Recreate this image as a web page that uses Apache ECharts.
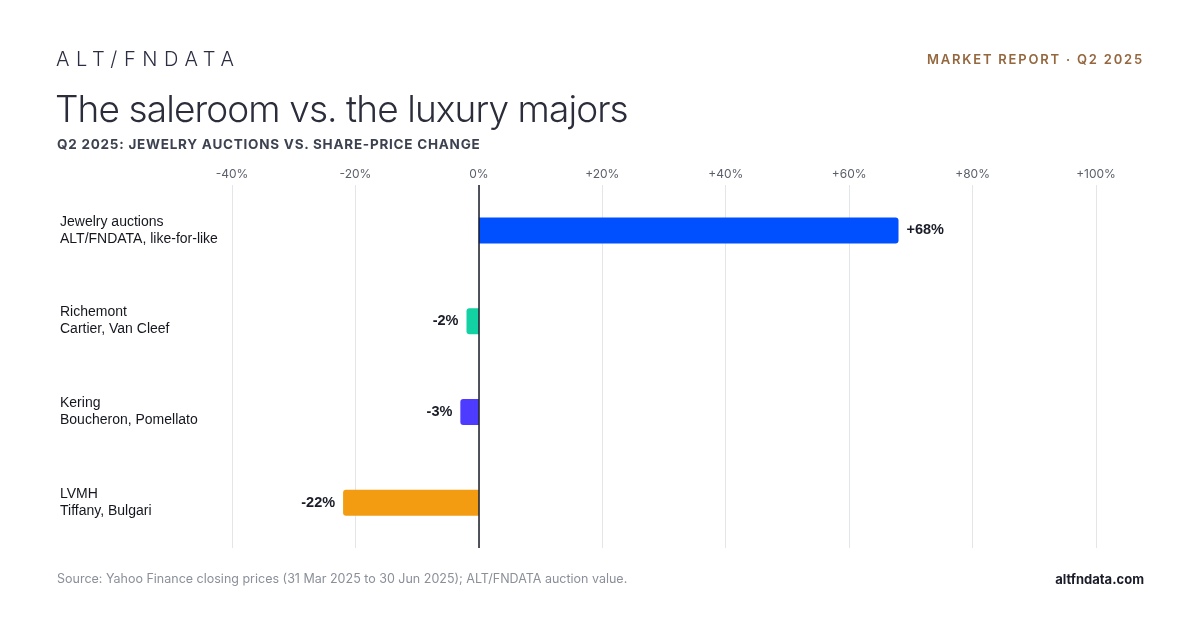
<!DOCTYPE html>
<html>
<head>
<meta charset="utf-8">
<script src="https://cdn.jsdelivr.net/npm/echarts@6/dist/echarts.min.js"></script>
<style>
  html, body { margin: 0; padding: 0; background: #fff; }
  #wrap { position: relative; width: 1200px; height: 630px; font-family: Inter, "Noto Sans", sans-serif; }
  #chart { position: absolute; left: 0; top: 0; width: 1200px; height: 630px; }
  .txt { position: absolute; white-space: nowrap; }
  #brand { left: 56px; top: 47px; font-size: 20px; font-weight: 300; letter-spacing: 6.6px; color: #2b2d42; }
  #report { right: 56px; top: 51px; font-size: 13px; font-weight: 600; letter-spacing: 1.8px; color: #94673f; }
  #title { left: 55px; top: 86px; font-size: 37px; font-weight: 300; letter-spacing: -0.9px; color: #2b2d3a; }
  #sub { left: 57px; top: 136px; font-size: 13.5px; font-weight: 700; letter-spacing: 0.75px; color: #3d4250; }
  #source { left: 57px; top: 571px; font-size: 12.5px; color: #8a8f99; }
  #site { right: 56px; top: 571px; font-size: 13px; font-weight: 700; color: #1a1c28; }
</style>
</head>
<body>
<div id="wrap">
  <div id="chart"></div>
  <div class="txt" id="brand">ALT/FNDATA</div>
  <div class="txt" id="report">MARKET REPORT · Q2 2025</div>
  <div class="txt" id="title">The saleroom vs. the luxury majors</div>
  <div class="txt" id="sub">Q2 2025: JEWELRY AUCTIONS VS. SHARE-PRICE CHANGE</div>
  <div class="txt" id="source">Source: Yahoo Finance closing prices (31 Mar 2025 to 30 Jun 2025); ALT/FNDATA auction value.</div>
  <div class="txt" id="site">altfndata.com</div>
</div>
<script>
// Data
const names = ['Jewelry auctions', 'Richemont', 'Kering', 'LVMH'];
const notes = ['ALT/FNDATA, like-for-like', 'Cartier, Van Cleef', 'Boucheron, Pomellato', 'Tiffany, Bulgari'];
const changes = [68, -2, -3, -22];
const barColors = ['#0050ff', '#12d1a3', '#4d3bff', '#f39c12'];
const xTicks = [-40, -20, 0, 20, 40, 60, 80, 100];

const categories = names.map((n, i) => n + '\n' + notes[i]);

const option = {
  animation: false,
  grid: { left: 232, right: 104, top: 185, bottom: 82 },
  xAxis: {
    type: 'value',
    position: 'top',
    min: xTicks[0],
    max: xTicks[xTicks.length - 1],
    interval: 20,
    axisLine: { show: false },
    axisTick: { show: false },
    axisLabel: {
      margin: 5,
      color: '#5a5f6b',
      fontSize: 12,
      fontFamily: 'Inter',
      formatter: v => (v > 0 ? '+' : '') + v + '%'
    },
    splitLine: { lineStyle: { color: '#e4e5e8', width: 1 } }
  },
  yAxis: {
    type: 'category',
    inverse: true,
    data: categories,
    axisLine: { show: false },
    axisTick: { show: false },
    axisLabel: {
      align: 'left',
      margin: 172,
      color: '#15171f',
      fontSize: 14,
      lineHeight: 17,
      padding: [2, 0, 0, 0],
      fontFamily: 'Liberation Sans, Arial, sans-serif'
    }
  },
  series: [{
    type: 'bar',
    barWidth: 26,
    data: changes.map((v, i) => ({
      value: v,
      itemStyle: {
        color: barColors[i],
        borderRadius: v >= 0 ? [0, 3, 3, 0] : [3, 0, 0, 3]
      },
      label: { position: v >= 0 ? 'right' : 'left' }
    })),
    label: {
      show: true,
      distance: 8,
      color: '#1a1c28',
      fontSize: 14.5,
      fontWeight: 'bold',
      fontFamily: 'Liberation Sans, Arial, sans-serif',
      formatter: p => (p.value > 0 ? '+' : '') + p.value + '%'
    },
    markLine: {
      silent: true,
      symbol: 'none',
      label: { show: false },
      lineStyle: { color: '#1a1c28', width: 1.5, type: 'solid' },
      data: [{ xAxis: 0 }]
    }
  }]
};

const myChart = echarts.init(document.getElementById('chart'));
myChart.setOption(option);
</script>
</body>
</html>
